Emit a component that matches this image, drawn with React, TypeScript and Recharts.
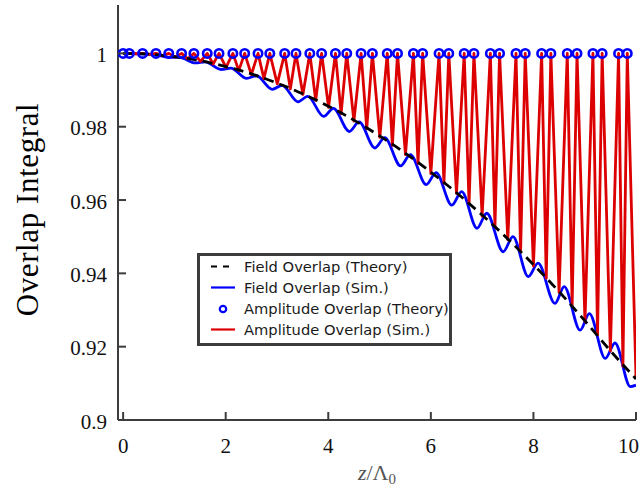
import React from 'react';
import { ComposedChart, Line, Scatter, XAxis, YAxis, Legend } from 'recharts';

// ---- data ----
const xTicks = [0, 2, 4, 6, 8, 10];
const yTicks = [0.9, 0.92, 0.94, 0.96, 0.98, 1];
const yTickLabels = ['0.9', '0.92', '0.94', '0.96', '0.98', '1'];

// Field Overlap (Theory)
const theoryX = [0, 0.5, 1, 1.5, 2, 2.5, 3, 3.5, 4, 4.5, 5, 5.5, 6, 6.5, 7, 7.5, 8, 8.5, 9, 9.5, 10];
const theoryY = [1.0, 0.9998, 0.9991, 0.998, 0.9964, 0.9944, 0.9919, 0.989, 0.9856, 0.9818, 0.9775, 0.9728, 0.9676, 0.962, 0.9559, 0.9494, 0.9424, 0.935, 0.9271, 0.9189, 0.9112];

// Field Overlap (Sim.)
const fieldSimX = [0, 0.41, 0.6, 0.91, 1.1, 1.41, 1.6, 1.91, 2.1, 2.41, 2.6, 2.91, 3.1, 3.41, 3.6, 3.91, 4.1, 4.41, 4.6, 4.91, 5.1, 5.41, 5.6, 5.91, 6.1, 6.41, 6.6, 6.9, 7.09, 7.41, 7.6, 7.9, 8.09, 8.42, 8.6, 8.91, 9.09, 9.4, 9.59, 9.89, 10];
const fieldSimY = [1.0, 0.9998, 0.9997, 0.9989, 0.9989, 0.9974, 0.9977, 0.9956, 0.996, 0.9932, 0.9939, 0.9902, 0.9913, 0.9868, 0.9883, 0.9828, 0.985, 0.9787, 0.9813, 0.9742, 0.977, 0.9693, 0.9724, 0.9642, 0.9675, 0.9586, 0.9623, 0.9523, 0.9564, 0.9459, 0.95, 0.9391, 0.9428, 0.9318, 0.9364, 0.9245, 0.929, 0.9168, 0.921, 0.9091, 0.9095];

// Amplitude Overlap (Theory) - positions where it equals 1
const ampTheoryX = [0, 0.12, 0.38, 0.64, 0.89, 1.14, 1.38, 1.64, 1.87, 2.14, 2.37, 2.63, 2.86, 3.15, 3.37, 3.64, 3.87, 4.14, 4.36, 4.64, 4.86, 5.15, 5.35, 5.66, 5.84, 6.16, 6.35, 6.65, 6.84, 7.16, 7.34, 7.66, 7.84, 8.16, 8.34, 8.66, 8.85, 9.16, 9.34, 9.66, 9.83];
const ampTheoryY = ampTheoryX.map(() => 1);

// Amplitude Overlap (Sim.) - minima between the peaks
const ampDipX = [0.06, 0.25, 0.51, 0.765, 1.015, 1.26, 1.51, 1.755, 2.005, 2.255, 2.5, 2.745, 3.005, 3.26, 3.505, 3.755, 4.005, 4.25, 4.5, 4.75, 5.005, 5.25, 5.505, 5.75, 6.0, 6.255, 6.5, 6.745, 7.0, 7.25, 7.5, 7.75, 8.0, 8.25, 8.5, 8.755, 9.005, 9.25, 9.5, 9.745, 10];
const ampDipY = [1.0, 0.9999, 0.9997, 0.9994, 0.999, 0.9985, 0.9978, 0.9971, 0.9962, 0.9953, 0.9942, 0.9931, 0.9917, 0.9903, 0.9888, 0.9872, 0.9853, 0.9836, 0.9815, 0.9795, 0.9771, 0.9749, 0.9724, 0.97, 0.9672, 0.9646, 0.9618, 0.959, 0.9556, 0.9527, 0.9492, 0.9459, 0.942, 0.9387, 0.9348, 0.9311, 0.9268, 0.9232, 0.9188, 0.9147, 0.9115];

// ---- build library data ----
const theoryData = theoryX.map((x, i) => ({ x, y: theoryY[i] }));
const fieldSimData = fieldSimX.map((x, i) => ({ x, y: fieldSimY[i] }));
const ampTheoryData = ampTheoryX.map((x, i) => ({ x, y: ampTheoryY[i] }));
const ampSimData: { x: number; y: number }[] = [];
ampTheoryX.forEach((x, i) => {
  ampSimData.push({ x, y: ampTheoryY[i] });
  if (i < ampDipX.length) ampSimData.push({ x: ampDipX[i], y: ampDipY[i] });
});

const AX = '#3c3c3c';
const TICK_LEN = 8;
const serif = '"Liberation Serif", "Times New Roman", serif';

const BottomTick = (p: any) => {
  const { x, y, payload } = p;
  const last = payload.value === xTicks[xTicks.length - 1];
  return (
    <g>
      <line x1={x} x2={x} y1={y} y2={y - TICK_LEN} stroke={AX} strokeWidth={2} />
      <text x={last ? x + 3 : x} y={y + 33} textAnchor={last ? 'end' : 'middle'} fontFamily={serif} fontSize={21} fill="#111">
        {String(payload.value)}
      </text>
    </g>
  );
};
const TopTick = (p: any) => {
  const { x, y } = p;
  return <line x1={x} x2={x} y1={y} y2={y + TICK_LEN} stroke={AX} strokeWidth={2} />;
};
const LeftTick = (p: any) => {
  const { x, y, payload } = p;
  const lbl = yTickLabels[yTicks.indexOf(payload.value)] ?? String(payload.value);
  return (
    <g>
      <line x1={x} x2={x + TICK_LEN} y1={y} y2={y} stroke={AX} strokeWidth={2} />
      <text x={x - 11} y={y + 8.5} textAnchor="end" fontFamily={serif} fontSize={21} fill="#111">
        {lbl}
      </text>
    </g>
  );
};
const RightTick = (p: any) => {
  const { x, y } = p;
  return <line x1={x} x2={x - TICK_LEN} y1={y} y2={y} stroke={AX} strokeWidth={2} />;
};

const YLabel = (p: any) => {
  const vb = p.viewBox || { x: 0, y: 5, width: 118, height: 415 };
  const cx = vb.x + 38;
  const cy = vb.y + vb.height / 2 - 3;
  return (
    <text x={cx} y={cy} transform={`rotate(-90, ${cx}, ${cy})`} textAnchor="middle" fontFamily={serif} fontSize={31} letterSpacing={0.6} fill="#000">
      Overlap Integral
    </text>
  );
};
const XLabel = (p: any) => {
  const vb = p.viewBox || { x: 118, y: 420, width: 518, height: 67 };
  const cx = vb.x + vb.width / 2;
  const by = vb.y + 60;
  return (
    <text x={cx} y={by} textAnchor="middle" fontFamily={serif} fontSize={22} fill="#555">
      <tspan fontStyle="italic">z</tspan>
      <tspan>/Λ</tspan>
      <tspan fontSize={15} dy={4}>0</tspan>
    </text>
  );
};

const legendItems = [
  { label: 'Field Overlap (Theory)', kind: 'dash' },
  { label: 'Field Overlap (Sim.)', kind: 'blue' },
  { label: 'Amplitude Overlap (Theory)', kind: 'circle' },
  { label: 'Amplitude Overlap (Sim.)', kind: 'red' },
];

const LegendBox = () => (
  <div
    style={{
      width: 255,
      height: 93,
      boxSizing: 'border-box',
      border: `3px solid ${AX}`,
      background: '#fff',
      paddingBottom: 3,
      fontFamily: '"DejaVu Sans", Verdana, sans-serif',
      fontSize: 14.7,
      color: '#1a1a1a',
    }}
  >
    {legendItems.map((it) => (
      <div key={it.label} style={{ height: 21, display: 'flex', alignItems: 'center', whiteSpace: 'nowrap' }}>
        <svg width={24} height={21} style={{ marginLeft: 11, marginRight: 9, flex: 'none' }}>
          {it.kind === 'dash' && <line x1={0} x2={24} y1={10.5} y2={10.5} stroke="#000" strokeWidth={2.2} strokeDasharray="6 6" />}
          {it.kind === 'blue' && <line x1={0} x2={24} y1={10.5} y2={10.5} stroke="#0000ff" strokeWidth={2.2} />}
          {it.kind === 'red' && <line x1={0} x2={24} y1={10.5} y2={10.5} stroke="#dd0000" strokeWidth={2.2} />}
          {it.kind === 'circle' && <circle cx={12} cy={11} r={3.2} fill="none" stroke="#0000ff" strokeWidth={2.2} />}
        </svg>
        <span>{it.label}</span>
      </div>
    ))}
  </div>
);

const CircleShape = (p: any) => {
  const { cx, cy } = p;
  if (cx == null || cy == null) return null;
  return <circle cx={cx} cy={cy} r={4.2} fill="none" stroke="#0000ff" strokeWidth={2.6} />;
};

export default function App() {
  return (
    <div style={{ position: 'absolute', left: 0, top: 0, width: 639, height: 487, background: '#fff' }}>
      <ComposedChart width={639} height={487} margin={{ top: 5, right: 3, bottom: 0, left: 0 }}>
        <XAxis
          xAxisId={0}
          type="number"
          dataKey="x"
          domain={[-0.1, 10]}
          ticks={xTicks}
          allowDataOverflow
          orientation="bottom"
          height={67}
          tickSize={0}
          tickMargin={0}
          tickLine={false}
          axisLine={{ stroke: AX, strokeWidth: 2 }}
          tick={BottomTick}
          interval={0}
          label={XLabel}
        />
        <XAxis
          xAxisId={1}
          type="number"
          dataKey="x"
          domain={[-0.1, 10]}
          ticks={xTicks}
          allowDataOverflow
          orientation="top"
          height={0}
          tickSize={0}
          tickMargin={0}
          tickLine={false}
          axisLine={{ stroke: AX, strokeWidth: 2 }}
          tick={TopTick}
          interval={0}
        />
        <YAxis
          yAxisId={0}
          type="number"
          dataKey="y"
          domain={[0.9, 1.0132]}
          ticks={yTicks}
          allowDataOverflow
          orientation="left"
          width={118}
          tickSize={0}
          tickMargin={0}
          tickLine={false}
          axisLine={{ stroke: AX, strokeWidth: 2 }}
          tick={LeftTick}
          interval={0}
          label={YLabel}
        />
        <YAxis
          yAxisId={1}
          type="number"
          dataKey="y"
          domain={[0.9, 1.0132]}
          ticks={yTicks}
          allowDataOverflow
          orientation="right"
          width={0}
          tickSize={0}
          tickMargin={0}
          tickLine={false}
          axisLine={{ stroke: AX, strokeWidth: 2 }}
          tick={RightTick}
          interval={0}
        />
        <Line
          xAxisId={0}
          yAxisId={0}
          data={fieldSimData}
          dataKey="y"
          type="monotone"
          stroke="#0000ff"
          strokeWidth={2.8}
          dot={false}
          isAnimationActive={false}
          name="Field Overlap (Sim.)"
        />
        <Line
          xAxisId={0}
          yAxisId={0}
          data={ampSimData}
          dataKey="y"
          type="linear"
          stroke="#dd0000"
          strokeWidth={2.8}
          strokeLinejoin="round"
          dot={false}
          isAnimationActive={false}
          name="Amplitude Overlap (Sim.)"
        />
        <Scatter
          xAxisId={0}
          yAxisId={0}
          data={ampTheoryData}
          dataKey="y"
          shape={CircleShape}
          isAnimationActive={false}
          name="Amplitude Overlap (Theory)"
        />
        <Line
          xAxisId={0}
          yAxisId={0}
          data={theoryData}
          dataKey="y"
          type="monotone"
          stroke="#000"
          strokeWidth={2.8}
          strokeDasharray="10 6"
          dot={false}
          isAnimationActive={false}
          name="Field Overlap (Theory)"
        />
        <Legend
          layout="vertical"
          align="center"
          verticalAlign="middle"
          content={LegendBox}
          wrapperStyle={{ left: 197, top: 253, width: 255, height: 93, right: 'auto', bottom: 'auto' }}
        />
      </ComposedChart>
    </div>
  );
}
